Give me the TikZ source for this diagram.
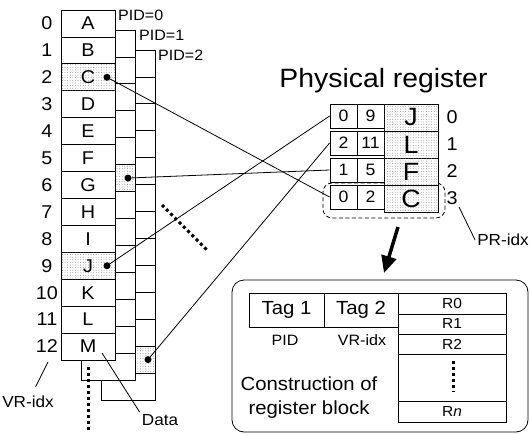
\documentclass[tikz,border=0pt]{standalone}
\usepackage{fontspec}
\setmainfont{Liberation Sans}[FakeStretch=1.07]
\usetikzlibrary{patterns.meta,arrows.meta}
\newcommand{\myfs}[1]{\fontsize{#1}{#1}\selectfont}
\begin{document}
\begin{tikzpicture}[x=1pt,y=-1pt,
  cell/.style={draw,line width=0.8pt,fill=white,minimum width=54pt,minimum height=26.92pt,inner sep=0pt,outer sep=0pt,font=\myfs{18.5}},
  shaded/.style={postaction={pattern={Dots[distance=2.6pt,radius=0.4pt]},pattern color=black!55}},
  prcell/.style={cell,shaded,minimum height=27pt,font=\myfs{25}},
  tagbox/.style={draw,line width=0.8pt,fill=white,minimum width=27pt,minimum height=24pt,inner sep=0pt,font=\myfs{16.5}},
  rbox/.style={draw,line width=0.8pt,fill=white,minimum width=108pt,inner sep=0pt,font=\myfs{14.5}},
  tbox/.style={draw,line width=0.8pt,fill=white,minimum height=34pt,inner sep=0pt,font=\myfs{19}},
  lbl/.style={font=\myfs{#1},inner sep=2pt},
  pidlbl/.style={anchor=base west,inner sep=0pt,font=\myfs{15}},
  dotn/.style={circle,fill=black,minimum size=7pt,inner sep=0pt},
  conn/.style={line width=0.8pt},
  thickdots/.style={line width=3pt,dash pattern=on 3pt off 3pt}]
\useasboundingbox (0,0) rectangle (530,434);

% ---- PID = 2 array
\foreach \i in {0,...,12}
  \node[cell] (c2-\i) at (128,{50+26.92*(\i+0.5)}) {};
\node[cell,shaded] (c2-11) at (128,{50+26.92*11.5}) {};
% ---- PID = 1 array
\foreach \i in {0,...,12}
  \node[cell] (c1-\i) at (108,{30+26.92*(\i+0.5)}) {};
\node[cell,shaded] (c1-5) at (108,{30+26.92*5.5}) {};
% ---- PID = 0 array
\foreach \L [count=\j from 0] in {A,B,C,D,E,F,G,H,I,J,K,L,M} {
  \node[cell] (c0-\j) at (88,{10+26.92*(\j+0.5)}) {\L};
  \node[lbl=18.5] (n\j) at (47,{10+26.92*(\j+0.5)}) {\j};
}
\node[cell,shaded] (c0-2) at (88,{10+26.92*2.5}) {C};
\node[cell,shaded] (c0-9) at (88,{10+26.92*9.5}) {J};

\node[pidlbl] (p0) at (118,20.5) {PID=0};
\node[pidlbl] (p1) at (139,40.5) {PID=1};
\node[pidlbl] (p2) at (158,60.5) {PID=2};

% dots in the arrays
\node[dotn] (dC) at (107,{10+26.92*2.5}) {};
\node[dotn] (dJ) at (107,{10+26.92*9.5}) {};
\node[dotn] (dF) at (128,{30+26.92*5.5}) {};
\node[dotn] (dL) at (148,{50+26.92*11.5}) {};

% continuation marks
\coordinate (vdA) at (88,367);
\coordinate (vdB) at (88,431);
\draw[thickdots] (vdA) -- (vdB);
\coordinate (ddA) at (162,205);
\coordinate (ddB) at (207,250);
\draw[thickdots] (ddA) -- (ddB);

% labels VR-idx and Data
\node[lbl=16] (vridx) at (28,402) {VR-idx};
\coordinate (vrA) at (48,362);
\draw[conn,shorten >=8pt] (vrA) -- (vridx);
\node[lbl=16] (data) at (160,420) {Data};
\coordinate (daA) at (102,353);
\draw[conn] (daA) -- (data.north west);

% ---- Physical register
\node[anchor=base,inner sep=0pt,font=\myfs{26.5}] (title) at (383.5,87) {Physical register};
\node[draw,dash pattern=on 4pt off 2.5pt,rounded corners=9pt,minimum width=122pt,minimum height=35pt,line width=0.8pt] (sel) at (384,200.5) {};
\foreach \a/\b/\L [count=\r from 0] in {0/9/J,2/11/L,1/5/F,0/2/C} {
  \node[tagbox] (t\r-a) at (343.5,{104+27*\r+12}) {\a};
  \node[tagbox] (t\r-b) at (370.5,{104+27*\r+12}) {\b};
  \node[prcell] (pr\r) at (411,{104+27*\r+13.5}) {\L};
  \node[lbl=18.5] (pi\r) at (452,{104+27*\r+13.5}) {\r};
}
\node[lbl=16] (pridx) at (503,240) {PR-idx};
\coordinate (prA) at (459,207);
\draw[conn] (prA) -- (pridx.west);

% big arrow
\coordinate (arA) at (398,227);
\coordinate (arB) at (384,273);
\draw[line width=3.5pt,-{Triangle[length=17pt,width=15pt]}] (arA) -- (arB);

% ---- register block
\node[draw,line width=0.8pt,rounded corners=12pt,minimum width=296pt,minimum height=152pt] (blk) at (380,356) {};
\node[tbox,minimum width=75pt] (tag1) at (286.5,310) {Tag 1};
\node[tbox,minimum width=74pt] (tag2) at (361,310) {Tag 2};
\node[lbl=15] (pidl) at (285,340) {PID};
\node[lbl=15] (vrl) at (362,340) {VR-idx};
\node[rbox,minimum height=21pt] (R0) at (452,303.5) {R0};
\node[rbox,minimum height=20pt] (R1) at (452,324) {R1};
\node[rbox,minimum height=20pt] (R2) at (452,344) {R2};
\node[rbox,minimum height=47pt] (Rd) at (452,377.5) {};
\node[rbox,minimum height=21pt] (Rn) at (452,411.5) {R\textit{n}};
\coordinate (rdA) at (453,361);
\coordinate (rdB) at (453,392);
\draw[thickdots] (rdA) -- (rdB);
\node[align=center,font=\fontsize{19}{24}\selectfont] (constr) at (309,398) {Construction of\\register block};

% ---- connectors
\draw[conn] (dC) -- (t3-a.west);
\draw[conn] (dJ) -- (t0-a.west);
\draw[conn] (dF) -- (t2-a.west);
\draw[conn] (dL) -- (t1-a.west);
\end{tikzpicture}
\end{document}
